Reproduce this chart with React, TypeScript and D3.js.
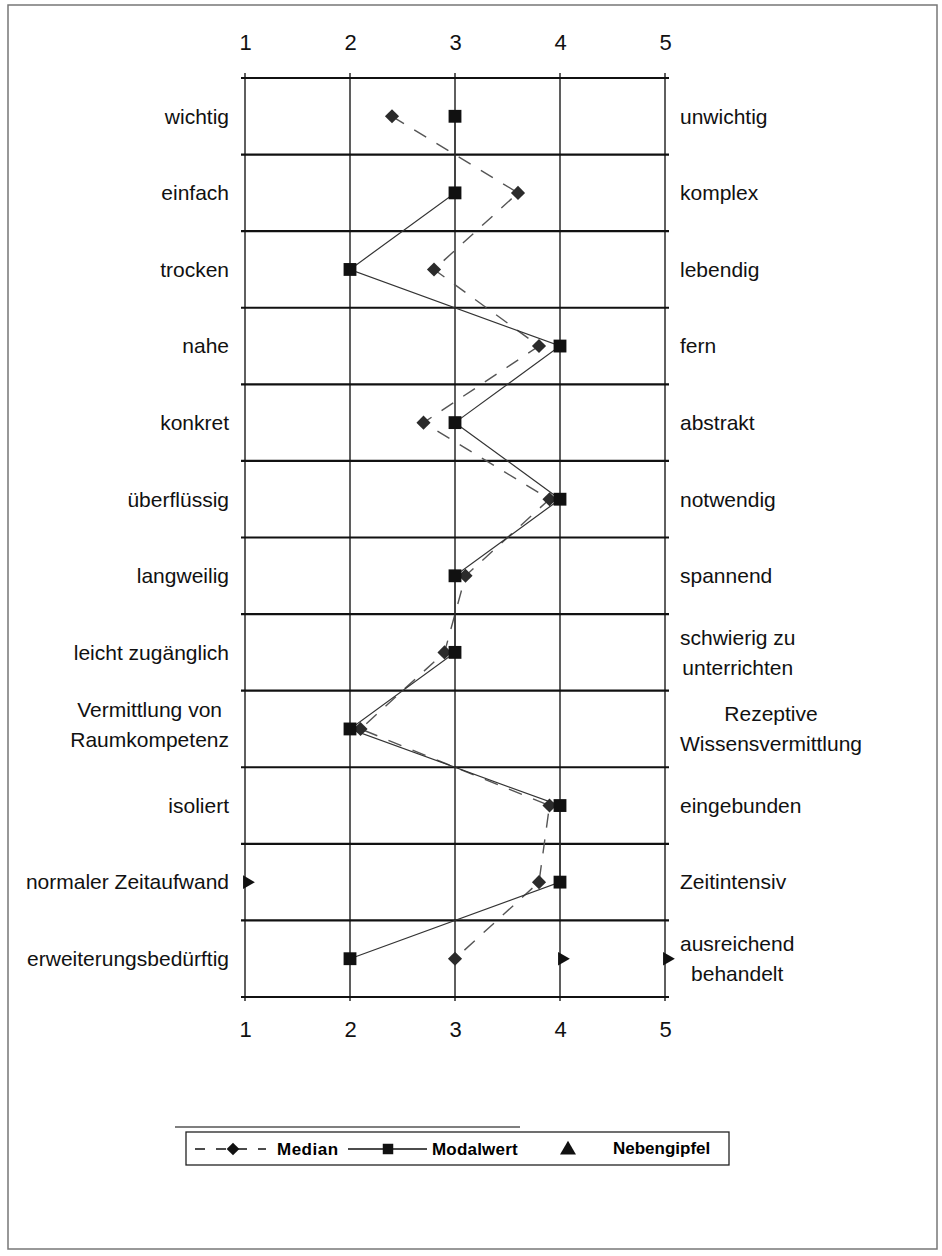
import React, { useEffect, useRef } from 'react'
import * as d3 from 'd3'

// left / right poles of the semantic differential, one entry per row
const leftLabels = [
    ['wichtig'],
    ['einfach'],
    ['trocken'],
    ['nahe'],
    ['konkret'],
    ['überflüssig'],
    ['langweilig'],
    ['leicht zugänglich'],
    ['Vermittlung von', 'Raumkompetenz'],
    ['isoliert'],
    ['normaler Zeitaufwand'],
    ['erweiterungsbedürftig']
]
const rightLabels = [
    ['unwichtig'],
    ['komplex'],
    ['lebendig'],
    ['fern'],
    ['abstrakt'],
    ['notwendig'],
    ['spannend'],
    ['schwierig zu', 'unterrichten'],
    ['Rezeptive', 'Wissensvermittlung'],
    ['eingebunden'],
    ['Zeitintensiv'],
    ['ausreichend', 'behandelt']
]
const medianValues = [2.4, 3.6, 2.8, 3.8, 2.7, 3.9, 3.1, 2.9, 2.1, 3.9, 3.8, 3.0]
const modalValues = [3, 3, 2, 4, 3, 4, 3, 3, 2, 4, 4, 2]
// Nebengipfel: row index + scale value
const peakRows = [10, 11, 11]
const peakValues = [1, 4, 5]
const scaleTicks = [1, 2, 3, 4, 5]

const WIDTH = 942
const HEIGHT = 1256
const FONT = "'Liberation Sans', Arial, sans-serif"

const measure = (text: string, font: string) => {
    const ctx = document.createElement('canvas').getContext('2d')!
    ctx.font = font
    return ctx.measureText(text).width
}

export default function App() {
    const svgRef = useRef<SVGSVGElement | null>(null)

    useEffect(() => {
        const svg = d3.select(svgRef.current)
        svg.selectAll('*').remove()

        const x = d3.scaleLinear().domain([1, 5]).range([245, 665])
        const y = d3
            .scaleBand<number>()
            .domain(d3.range(leftLabels.length))
            .range([78, 997])
        const yc = (i: number) => (y(i) as number) + y.bandwidth() / 2

        // outer frame of the scan
        svg.append('rect')
            .attr('x', 8)
            .attr('y', 5)
            .attr('width', 929)
            .attr('height', 1244)
            .attr('fill', 'none')
            .attr('stroke', '#777')
            .attr('stroke-width', 1.5)

        // vertical grid lines
        svg.append('g')
            .selectAll('line')
            .data(scaleTicks)
            .join('line')
            .attr('x1', (d) => x(d))
            .attr('x2', (d) => x(d))
            .attr('y1', 73)
            .attr('y2', 1001)
            .attr('stroke', '#2a2a2a')
            .attr('stroke-width', 1.5)

        // horizontal row separators
        const rowEdges = d3.range(leftLabels.length + 1).map((i) =>
            i < leftLabels.length ? (y(i) as number) : y.range()[1]
        )
        svg.append('g')
            .selectAll('line')
            .data(rowEdges)
            .join('line')
            .attr('x1', 241)
            .attr('x2', 669)
            .attr('y1', (d) => d)
            .attr('y2', (d) => d)
            .attr('stroke', '#111')
            .attr('stroke-width', 2.2)

        // scale numbers top and bottom
        const top = svg
            .append('g')
            .attr('transform', `translate(0, ${y.range()[0]})`)
            .call(d3.axisTop(x).tickValues(scaleTicks).tickSize(0).tickPadding(28).tickFormat(d3.format('d')))
        const bottom = svg
            .append('g')
            .attr('transform', `translate(0, ${y.range()[1]})`)
            .call(d3.axisBottom(x).tickValues(scaleTicks).tickSize(0).tickPadding(24).tickFormat(d3.format('d')))
        ;[top, bottom].forEach((g) => {
            g.select('.domain').remove()
            g.selectAll('text').attr('font-size', 22).attr('font-family', FONT).attr('fill', '#111')
        })

        // pole labels
        const labelFont = `21px ${FONT}`
        const drawLabels = (labels: string[][], side: 'left' | 'right') => {
            const edge = side === 'left' ? 229 : 680
            const g = svg.append('g').attr('font-family', FONT).attr('font-size', 21).attr('fill', '#111')
            labels.forEach((lines, i) => {
                if (lines.length === 1) {
                    g.append('text')
                        .attr('x', edge)
                        .attr('y', yc(i))
                        .attr('dy', '0.35em')
                        .attr('text-anchor', side === 'left' ? 'end' : 'start')
                        .text(lines[0])
                } else {
                    const w = d3.max(lines, (l) => measure(l, labelFont)) as number
                    const cx = side === 'left' ? edge - w / 2 : edge + w / 2
                    const shift = side === 'left' ? -4 : 0
                    lines.forEach((l, k) => {
                        g.append('text')
                            .attr('x', cx)
                            .attr('y', yc(i) + shift + (k === 0 ? -15 : 15))
                            .attr('dy', '0.35em')
                            .attr('text-anchor', 'middle')
                            .text(l)
                    })
                }
            })
        }
        drawLabels(leftLabels, 'left')
        drawLabels(rightLabels, 'right')

        const line = d3
            .line<number>()
            .x((d) => x(d))
            .y((d, i) => yc(i))

        const diamond = d3.symbol(d3.symbolSquare, 100)
        const square = d3.symbol(d3.symbolSquare, 165)
        const triangle = d3.symbol(d3.symbolTriangle, 80)

        // median: dashed line with diamonds
        svg.append('path')
            .datum(medianValues)
            .attr('d', line)
            .attr('fill', 'none')
            .attr('stroke', '#555')
            .attr('stroke-width', 1.4)
            .attr('stroke-dasharray', '14 12')

        // modal value: solid line with squares
        svg.append('path')
            .datum(modalValues)
            .attr('d', line)
            .attr('fill', 'none')
            .attr('stroke', '#333')
            .attr('stroke-width', 1.2)

        svg.append('g')
            .selectAll('path')
            .data(medianValues)
            .join('path')
            .attr('d', diamond)
            .attr('transform', (d, i) => `translate(${x(d)}, ${yc(i)}) rotate(45)`)
            .attr('fill', '#2b2b2b')

        svg.append('g')
            .selectAll('path')
            .data(modalValues)
            .join('path')
            .attr('d', square)
            .attr('transform', (d, i) => `translate(${x(d)}, ${yc(i)})`)
            .attr('fill', '#111')

        // secondary peaks
        svg.append('g')
            .selectAll('path')
            .data(peakValues)
            .join('path')
            .attr('d', triangle)
            .attr('transform', (d, i) => `translate(${x(d) + 2}, ${yc(peakRows[i])}) rotate(90)`)
            .attr('fill', '#111')

        // legend
        const lg = svg.append('g').attr('font-family', FONT).attr('font-size', 17).attr('font-weight', 'bold')
        lg.append('line')
            .attr('x1', 175)
            .attr('x2', 520)
            .attr('y1', 1127)
            .attr('y2', 1127)
            .attr('stroke', '#555')
            .attr('stroke-width', 1.5)
        lg.append('rect')
            .attr('x', 186)
            .attr('y', 1132)
            .attr('width', 543)
            .attr('height', 33)
            .attr('fill', 'none')
            .attr('stroke', '#222')
            .attr('stroke-width', 1.3)
        const ly = 1149
        lg.append('line')
            .attr('x1', 195)
            .attr('x2', 266)
            .attr('y1', ly)
            .attr('y2', ly)
            .attr('stroke', '#111')
            .attr('stroke-width', 1.3)
            .attr('stroke-dasharray', '10 11')
        lg.append('path')
            .attr('d', d3.symbol(d3.symbolSquare, 80)())
            .attr('transform', `translate(233, ${ly}) rotate(45)`)
            .attr('fill', '#111')
        lg.append('text').attr('x', 277).attr('y', ly + 6).attr('letter-spacing', 0.5).text('Median')
        lg.append('line')
            .attr('x1', 348)
            .attr('x2', 427)
            .attr('y1', ly)
            .attr('y2', ly)
            .attr('stroke', '#111')
            .attr('stroke-width', 1.3)
        lg.append('path')
            .attr('d', d3.symbol(d3.symbolSquare, 110)())
            .attr('transform', `translate(388, ${ly})`)
            .attr('fill', '#111')
        lg.append('text').attr('x', 432).attr('y', ly + 6).attr('letter-spacing', 0.2).text('Modalwert')
        lg.append('path')
            .attr('d', d3.symbol(d3.symbolTriangle, 110)())
            .attr('transform', `translate(568, ${ly + 1})`)
            .attr('fill', '#111')
        lg.append('text').attr('x', 613).attr('y', ly + 5).text('Nebengipfel')
    }, [])

    return (
        <svg
            ref={svgRef}
            width={WIDTH}
            height={HEIGHT}
            style={{ position: 'absolute', left: 0, top: 0, background: '#fff' }}
        />
    )
}
